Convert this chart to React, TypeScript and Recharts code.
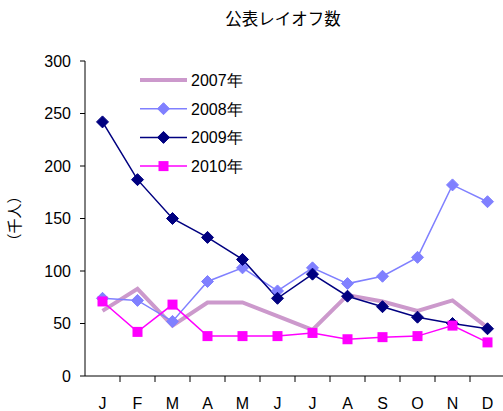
import React from 'react';
import { LineChart, Line, XAxis, YAxis } from 'recharts';

const months = ['J', 'F', 'M', 'A', 'M', 'J', 'J', 'A', 'S', 'O', 'N', 'D'];
const y2007 = [62, 83, 48, 70, 70, 57, 44, 77, 71, 62, 72, 46];
const y2008 = [74, 72, 52, 90, 103, 81, 103, 88, 95, 113, 182, 166];
const y2009 = [242, 187, 150, 132, 111, 74, 97, 76, 66, 56, 50, 45];
const y2010 = [71, 42, 68, 38, 38, 38, 41, 35, 37, 38, 48, 32];
const yTicks = [0, 50, 100, 150, 200, 250, 300];

const data = months.map((m, i) => ({
  key: i,
  month: m,
  y2007: y2007[i],
  y2008: y2008[i],
  y2009: y2009[i],
  y2010: y2010[i],
}));

const W = 503;
const H = 411;
const LEFT = 85;
const RIGHT_END = 505;
const TOP = 61;
const BOTTOM = 376;
const BAND = (RIGHT_END - LEFT) / 12;
const FONT = '"Liberation Sans", Arial, sans-serif';
const CJK = '"Noto Sans CJK JP", sans-serif';

const Diamond = (color: string, r: number) => (props: any) => {
  const { cx, cy } = props;
  if (cx == null || cy == null) return <g />;
  return (
    <path
      d={`M${cx},${cy - r} L${cx + r},${cy} L${cx},${cy + r} L${cx - r},${cy} Z`}
      fill={color}
      stroke={color}
      strokeWidth={1}
    />
  );
};

const Square = (color: string, r: number) => (props: any) => {
  const { cx, cy } = props;
  if (cx == null || cy == null) return <g />;
  return <rect x={cx - r} y={cy - r} width={2 * r} height={2 * r} fill={color} />;
};

const series = [
  { key: 'y2007', name: '2007年', color: '#CC99CC', width: 4, marker: null as any },
  { key: 'y2008', name: '2008年', color: '#8080FF', width: 1.5, marker: 'diamond' },
  { key: 'y2009', name: '2009年', color: '#000080', width: 1.5, marker: 'diamond' },
  { key: 'y2010', name: '2010年', color: '#FF00FF', width: 1.5, marker: 'square' },
];

const XTick = (props: any) => {
  const { x, payload, index } = props;
  return (
    <g>
      <text x={x} y={BOTTOM + 33} textAnchor="middle" fontSize={16} fontFamily={FONT} fill="#000">
        {months[payload.value]}
      </text>
      {index < 11 && (
        <line x1={x + BAND / 2} x2={x + BAND / 2} y1={BOTTOM} y2={BOTTOM + 6} stroke="#000" strokeWidth={1} />
      )}
    </g>
  );
};

const LegendBox = () => (
  <svg width={150} height={120} style={{ position: 'absolute', left: 138, top: 70, display: 'block' }}>
    {series.map((s, i) => {
      const cy = 10 + i * 28.7;
      return (
        <g key={s.key}>
          <line x1={2} x2={49} y1={cy} y2={cy} stroke={s.color} strokeWidth={s.width} />
          {s.marker === 'diamond' && Diamond(s.color, 6)({ cx: 25.5, cy })}
          {s.marker === 'square' && Square(s.color, 5)({ cx: 25.5, cy })}
          <text x={53} y={cy + 6} fontSize={16} fontFamily={FONT} fill="#000">
            {s.name}
          </text>
        </g>
      );
    })}
  </svg>
);

export default function App() {
  return (
    <div style={{ position: 'absolute', left: 0, top: 0, width: W, height: H, background: '#fff', overflow: 'hidden' }}>
      <div
        style={{
          position: 'absolute',
          left: 0,
          width: 566,
          top: 6,
          textAlign: 'center',
          fontSize: 16.5,
          fontFamily: CJK,
          color: '#000',
        }}
      >
        公表レイオフ数
      </div>
      <LineChart
        width={W + 2}
        height={H}
        data={data}
        margin={{ top: TOP, right: 0, bottom: 0, left: 0 }}
      >
        <XAxis
          dataKey="key"
          type="category"
          scale="band"
          tick={<XTick />}
          tickLine={false}
          axisLine={{ stroke: '#000', strokeWidth: 1 }}
          height={H - BOTTOM}
          interval={0}
        />
        <YAxis
          type="number"
          domain={[0, 300]}
          ticks={yTicks}
          width={LEFT}
          tickSize={5}
          tickMargin={9}
          tick={{ fontSize: 16, fontFamily: FONT, fill: '#000' }}
          tickLine={{ stroke: '#000' }}
          axisLine={{ stroke: '#000', strokeWidth: 1 }}
          interval={0}
          label={{
            content: () => (
              <text
                x={0}
                y={0}
                transform={`translate(20, ${(TOP + BOTTOM) / 2}) rotate(-90)`}
                textAnchor="middle"
                fontSize={15}
                fontFamily={CJK}
                fill="#000"
              >
                （千人）
              </text>
            ),
          }}
        />
        {series.map((s) => (
          <Line
            key={s.key}
            dataKey={s.key}
            name={s.name}
            stroke={s.color}
            strokeWidth={s.width}
            isAnimationActive={false}
            dot={
              s.marker === 'diamond'
                ? Diamond(s.color, 6)
                : s.marker === 'square'
                ? Square(s.color, 5)
                : false
            }
            activeDot={false}
            legendType="none"
          />
        ))}
      </LineChart>
      <LegendBox />
    </div>
  );
}
